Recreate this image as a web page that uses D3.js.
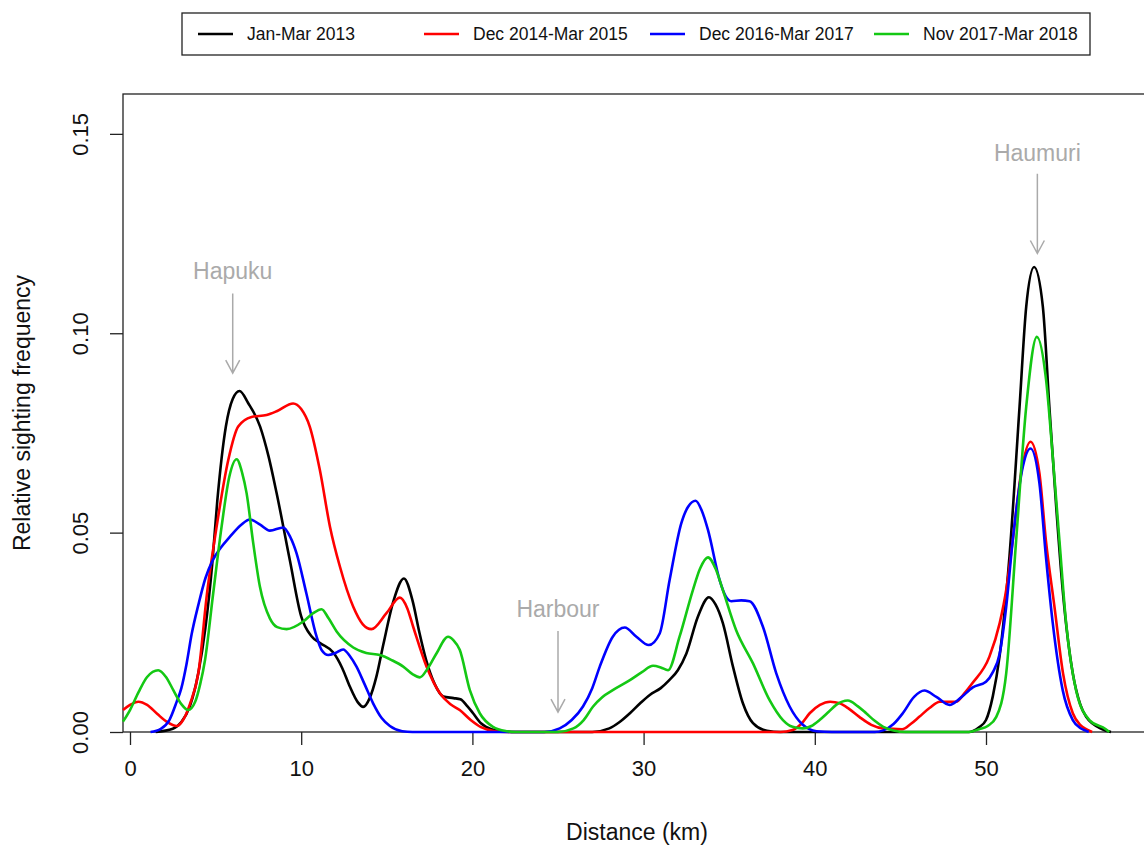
<!DOCTYPE html>
<html lang="en">
<head>
  <meta charset="UTF-8">
  <title>Relative sighting frequency by distance</title>
  <style>
    body, html {
      margin: 0;
      padding: 0;
      background: #fff;
    }
    svg text {
      font-family: "Liberation Sans", Arial, Helvetica, sans-serif;
    }
  </style>
</head>
<body>
  <svg id="svg" width="1144" height="845"></svg>
  <script src="https://d3js.org/d3.v7.min.js"></script>
  <script>
    // ---- data: [distance km, relative frequency] ----
    const janMar2013 = [
      [1.5,0],[2.5,0.0008],[3.0,0.0025],[3.5,0.0065],[4.0,0.015],[4.4,0.026],[4.8,0.042],
      [5.1,0.058],[5.6,0.0766],[6.0,0.0835],[6.4,0.0855],[6.9,0.0825],[7.6,0.0766],[8.1,0.069],
      [8.56,0.060],[9.34,0.043],[10.0,0.029],[10.6,0.024],[11.1,0.0223],[11.9,0.0198],[12.4,0.016],
      [12.84,0.0114],[13.3,0.0075],[13.62,0.0063],[14.0,0.0085],[14.4,0.014],[14.8,0.022],
      [15.4,0.033],[16.0,0.0385],[16.5,0.033],[16.9,0.025],[17.3,0.018],[17.8,0.012],[18.3,0.0089],
      [18.9,0.0085],[19.3,0.0082],[19.7,0.0065],[20.04,0.0047],[20.5,0.0022],[20.8,0.0013],
      [21.5,0.0003],[22.5,0],[27,0],[28.0,0.0009],[28.6,0.0025],[29.2,0.0047],[29.8,0.0072],
      [30.36,0.0093],[31.0,0.011],[31.5,0.013],[32.0,0.0155],[32.5,0.0197],[33.17,0.0289],
      [33.82,0.0338],[34.2,0.032],[34.63,0.0273],[35.22,0.0164],[35.8,0.0072],[36.39,0.0022],
      [37.2,0.0003],[38,0],[49,0],[49.6,0.0012],[50.0,0.003],[50.4,0.009],[50.79,0.0189],
      [51.37,0.044],[51.96,0.0816],[52.35,0.1067],[52.81,0.1166],[53.32,0.1067],[53.7,0.0816],
      [54.1,0.0565],[54.48,0.0356],[55.07,0.0147],[55.5,0.007],[55.85,0.0038],[56.8,0.0007],[57.3,0]
    ]
    const dec2014Mar2015 = [
      [-0.41,0.0055],[0,0.0068],[0.49,0.0076],[1.0,0.0068],[1.6,0.0045],[2.14,0.0026],[2.73,0.0015],
      [3.1,0.003],[3.5,0.007],[4.0,0.015],[4.5,0.0348],[5.06,0.0515],[5.74,0.0682],[6.32,0.0766],
      [7.1,0.079],[7.98,0.0795],[8.6,0.0805],[9.53,0.0824],[10.0,0.081],[10.5,0.0766],[11.09,0.0657],
      [11.68,0.0515],[12.26,0.0415],[13.04,0.0314],[13.6,0.027],[14.1,0.0258],[14.98,0.0298],
      [15.76,0.0337],[16.2,0.031],[16.54,0.0264],[17.32,0.0164],[18.1,0.0097],[18.7,0.007],
      [19.26,0.0055],[19.9,0.003],[20.5,0.0012],[21.3,0.0002],[22,0],[38.0,0],[38.7,0.0005],
      [39.2,0.002],[39.7,0.0047],[40.3,0.0068],[40.9,0.0076],[41.45,0.0072],[42.0,0.0058],
      [42.6,0.0038],[43.3,0.0018],[44.0,0.0009],[45.1,0.0007],[45.6,0.002],[46.1,0.0038],
      [46.7,0.006],[47.3,0.0076],[48.26,0.0076],[48.7,0.0095],[49.2,0.0122],[50.2,0.0189],
      [50.8,0.0273],[51.18,0.0356],[51.56,0.048],[52.05,0.0649],[52.6,0.0728],[53.12,0.0649],
      [53.5,0.048],[54.0,0.0314],[54.5,0.0147],[55.07,0.0047],[55.5,0.0018],[55.85,0.0007],[56.2,0]
    ]
    const dec2016Mar2017 = [
      [1.2,0],[1.8,0.0008],[2.3,0.003],[2.72,0.0075],[3.0,0.011],[3.3,0.017],[3.6,0.0245],
      [4.0,0.032],[4.4,0.0385],[4.8,0.0428],[5.3,0.0462],[5.84,0.049],[6.5,0.052],[7.0,0.0533],
      [7.6,0.052],[8.17,0.0505],[8.95,0.0513],[9.35,0.049],[9.73,0.0448],[10.3,0.0348],
      [10.9,0.0239],[11.2,0.0205],[11.58,0.0193],[12.0,0.0198],[12.45,0.0207],[12.85,0.019],
      [13.23,0.0164],[13.7,0.012],[14.2,0.0072],[14.7,0.0035],[15.18,0.0015],[15.9,0.0002],
      [16.5,0],[24.2,0],[25.1,0.0009],[25.8,0.003],[26.46,0.0064],[27.0,0.011],[27.44,0.0164],
      [28.2,0.0239],[28.9,0.0262],[29.58,0.0239],[30.3,0.0218],[30.94,0.0247],[31.52,0.0381],
      [32.2,0.0523],[32.6,0.0565],[33.04,0.058],[33.4,0.0555],[33.76,0.0507],[34.44,0.0381],
      [34.8,0.034],[35.12,0.0328],[35.7,0.033],[36.19,0.0328],[36.97,0.0264],[37.75,0.0147],
      [38.53,0.0064],[39.3,0.0018],[40.1,0.0002],[41,0],[43.5,0],[44.0,0.0004],[44.6,0.002],
      [45.14,0.0047],[45.8,0.0088],[46.4,0.0104],[47.1,0.0088],[47.87,0.0068],[48.5,0.0085],
      [49.23,0.0112],[50.0,0.0126],[50.4,0.015],[50.79,0.0195],[51.18,0.0314],[51.56,0.048],
      [52.15,0.0665],[52.6,0.0711],[53.12,0.0624],[53.5,0.044],[53.9,0.0273],[54.48,0.0105],
      [55.07,0.003],[55.5,0.001],[55.85,0.0003],[56.0,0]
    ]
    const nov2017Mar2018 = [
      [-0.41,0.0026],[0,0.0055],[0.5,0.01],[1.0,0.0138],[1.65,0.0155],[2.1,0.0138],[2.53,0.0105],
      [3.0,0.007],[3.4,0.0055],[3.8,0.0075],[4.1,0.012],[4.38,0.018],[4.86,0.0348],[5.35,0.0515],
      [5.8,0.064],[6.23,0.0684],[6.55,0.065],[6.81,0.0599],[7.2,0.0473],[7.59,0.0364],[8.17,0.0285],
      [8.6,0.0263],[9.15,0.0258],[10.12,0.0277],[10.7,0.0298],[11.19,0.0308],[11.6,0.0285],
      [12.07,0.0252],[13.04,0.0212],[13.8,0.0198],[14.6,0.0193],[15.3,0.018],[15.96,0.0164],
      [16.5,0.0145],[16.93,0.0137],[17.4,0.016],[17.9,0.0197],[18.58,0.0239],[18.9,0.023],
      [19.26,0.0206],[19.85,0.0105],[20.43,0.0047],[21.2,0.0013],[22,0.0002],[22.5,0],[25.0,0],
      [25.9,0.0009],[26.5,0.003],[27.05,0.0064],[27.6,0.0088],[28.2,0.0105],[29.2,0.013],
      [29.9,0.015],[30.55,0.0166],[31.0,0.0162],[31.43,0.0155],[32.1,0.0239],[32.88,0.0356],
      [33.3,0.041],[33.76,0.0438],[34.2,0.041],[34.63,0.0356],[35.4,0.0256],[36.39,0.0172],
      [37.36,0.008],[38.14,0.003],[38.7,0.0013],[39.3,0.0009],[39.8,0.0015],[40.28,0.003],
      [40.8,0.005],[41.25,0.0068],[41.93,0.0079],[42.5,0.0065],[43.0,0.0047],[43.5,0.0028],
      [44.0,0.0013],[44.6,0.0004],[45.3,0],[49.0,0],[49.6,0.0007],[50.1,0.0015],[50.6,0.0038],
      [51.18,0.0147],[51.76,0.048],[52.35,0.0816],[52.97,0.0991],[53.51,0.0883],[53.9,0.069],
      [54.29,0.048],[54.68,0.0273],[55.26,0.0105],[56.04,0.003],[57.0,0.0007],[57.2,0]
    ]

    const seriesNames = ['Jan-Mar 2013', 'Dec 2014-Mar 2015', 'Dec 2016-Mar 2017', 'Nov 2017-Mar 2018']
    const seriesColors = ['#000000', '#ff0000', '#0000ff', '#14c814']
    const seriesData = [janMar2013, dec2014Mar2015, dec2016Mar2017, nov2017Mar2018]

    const xTicks = [0, 10, 20, 30, 40, 50]
    const yTicks = [0, 0.05, 0.10, 0.15]

    // place names with arrows
    const placeNames = ['Hapuku', 'Harbour', 'Haumuri']
    const placeKm = [6, 25, 53]
    const placeLabelY = [0.1155, 0.0308, 0.1453]
    const placeArrowFrom = [0.110, 0.0253, 0.140]
    const placeArrowTo = [0.090, 0.005, 0.120]

    // ---- layout ----
    const svg = d3.select('#svg')
    const boxLeft = 123
    const boxRight = 1160 // the original figure is cut off on the right
    const boxTop = 94
    const boxBottom = 732

    const x = d3.scaleLinear().domain([0, 50]).range([130, 986])
    const y = d3.scaleLinear().domain([0, 0.16]).range([boxBottom, boxTop])

    // plot frame
    svg.append('rect')
      .attr('x', boxLeft).attr('y', boxTop)
      .attr('width', boxRight - boxLeft).attr('height', boxBottom - boxTop)
      .attr('fill', 'none').attr('stroke', '#222').attr('stroke-width', 1.3)

    // x axis
    const xAxis = svg.append('g')
      .attr('transform', `translate(0, ${boxBottom})`)
      .call(d3.axisBottom(x).tickValues(xTicks).tickSize(13).tickPadding(15).tickFormat(d3.format('d')))
    xAxis.select('.domain').remove()
    xAxis.selectAll('line').attr('stroke', '#222').attr('stroke-width', 1.3)
    xAxis.selectAll('text')
      .attr('font-size', 22)
      .attr('fill', '#111')
      .style('font-family', '"Liberation Sans", Arial, sans-serif')

    // y axis, labels turned like in base R
    const yAxis = svg.append('g')
      .attr('transform', `translate(${boxLeft}, 0)`)
      .call(d3.axisLeft(y).tickValues(yTicks).tickSize(13).tickFormat(d3.format('.2f')))
    yAxis.select('.domain').remove()
    yAxis.selectAll('line').attr('stroke', '#222').attr('stroke-width', 1.3)
    yAxis.selectAll('text')
      .attr('font-size', 22)
      .attr('fill', '#111')
      .attr('x', null).attr('y', null).attr('dy', null)
      .attr('text-anchor', 'middle')
      .attr('transform', 'translate(-35, 0) rotate(-90)')
      .style('font-family', '"Liberation Sans", Arial, sans-serif')

    // axis titles
    svg.append('text')
      .text('Distance (km)')
      .attr('x', 637).attr('y', 840)
      .attr('text-anchor', 'middle')
      .attr('font-size', 23)
      .attr('fill', '#111')

    svg.append('text')
      .text('Relative sighting frequency')
      .attr('transform', 'translate(30, 413) rotate(-90)')
      .attr('text-anchor', 'middle')
      .attr('font-size', 23)
      .attr('fill', '#111')

    // place annotations
    placeNames.forEach((name, i) => {
      const px = x(placeKm[i])
      svg.append('text')
        .text(name)
        .attr('x', px).attr('y', y(placeLabelY[i]))
        .attr('dy', '0.35em')
        .attr('text-anchor', 'middle')
        .attr('font-size', 23)
        .attr('fill', '#aaaaaa')
      const y1 = y(placeArrowFrom[i])
      const y2 = y(placeArrowTo[i])
      svg.append('path')
        .attr('d', `M${px},${y1}L${px},${y2}M${px - 7},${y2 - 13}L${px},${y2}L${px + 7},${y2 - 13}`)
        .attr('fill', 'none')
        .attr('stroke', '#aaaaaa')
        .attr('stroke-width', 1.5)
    })

    // density curves
    const line = d3.line()
      .x(d => x(d[0]))
      .y(d => y(d[1]))
      .curve(d3.curveMonotoneX)

    seriesData.forEach((s, i) => {
      svg.append('path')
        .datum(s)
        .attr('d', line)
        .attr('fill', 'none')
        .attr('stroke', seriesColors[i])
        .attr('stroke-width', 2.6)
        .attr('stroke-linejoin', 'round')
    })

    // legend
    const legendX = [198, 424, 650, 874]
    svg.append('rect')
      .attr('x', 182).attr('y', 13)
      .attr('width', 908).attr('height', 42)
      .attr('fill', '#fff').attr('stroke', '#222').attr('stroke-width', 1.3)

    const legend = svg.selectAll('.legend-item')
      .data(seriesNames)
      .join('g')
      .attr('class', 'legend-item')
      .attr('transform', (d, i) => `translate(${legendX[i]}, 34)`)

    legend.append('line')
      .attr('x1', 0).attr('x2', 35)
      .attr('stroke', (d, i) => seriesColors[i])
      .attr('stroke-width', 2.6)

    legend.append('text')
      .text(d => d)
      .attr('x', 49)
      .attr('dy', '0.35em')
      .attr('font-size', 17.5)
      .attr('fill', '#111')
  </script>
</body>
</html>
